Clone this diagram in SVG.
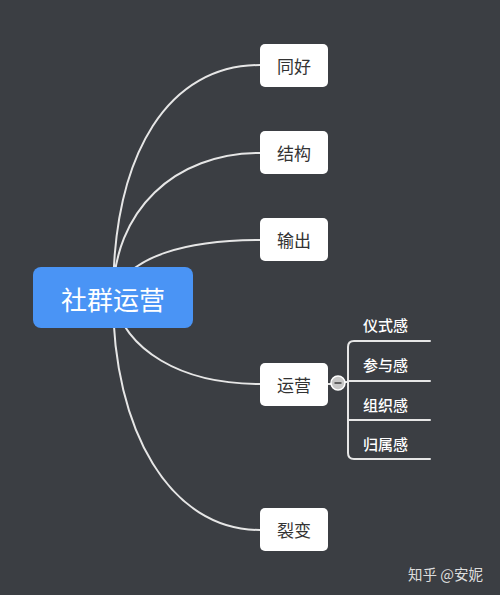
<svg xmlns="http://www.w3.org/2000/svg" width="500" height="595" viewBox="0 0 500 595">
<style>
.bg{fill:#3b3e43}
.ln{fill:none;stroke:#e6e6e6;stroke-width:2;stroke-linecap:round}
.child rect{fill:#ffffff}
.child text{font-family:"Noto Sans CJK SC","Noto Sans",sans-serif;font-size:17px;fill:#333333;text-anchor:middle;dominant-baseline:central}
.leaf{font-family:"Noto Sans CJK SC","Noto Sans",sans-serif;font-size:15px;font-weight:500;fill:#ffffff;dominant-baseline:central}
</style>
<rect class="bg" x="0" y="0" width="500" height="595"/>
<g id="connectors">
<path class="ln" d="M113,298 C113,150 170,65 260,65"/>
<path class="ln" d="M113,298 C113,210 175,153 260,153"/>
<path class="ln" d="M113,298 C125,255 190,240 260,240"/>
<path class="ln" d="M113,298 C125,350 180,384 260,384"/>
<path class="ln" d="M113,298 C113,430 170,530 260,530"/>
<path class="ln" d="M328,384 L340,384"/>
<path class="ln" d="M338,382 L348,382"/>
<path class="ln" d="M430,341 L354,341 Q348,341 348,347 L348,453 Q348,459 354,459 L430,459"/>
<path class="ln" d="M348,381 L430,381"/>
<path class="ln" d="M348,420 L430,420"/>
</g>
<g id="root">
<rect x="33" y="267" width="160" height="61" rx="8" fill="#4a94f5"/>
<text x="113" y="298" font-family="Noto Sans CJK SC,Noto Sans,sans-serif" font-size="26" fill="#ffffff" text-anchor="middle" dominant-baseline="central">社群运营</text>
</g>
<g id="n1" class="child"><rect x="260" y="44" width="68" height="43" rx="5"/><text x="294" y="65.5">同好</text></g>
<g id="n2" class="child"><rect x="260" y="131" width="68" height="43" rx="5"/><text x="294" y="152.5">结构</text></g>
<g id="n3" class="child"><rect x="260" y="218" width="68" height="43" rx="5"/><text x="294" y="239.5">输出</text></g>
<g id="n4" class="child"><rect x="260" y="363" width="68" height="43" rx="5"/><text x="294" y="384.5">运营</text></g>
<g id="n5" class="child"><rect x="260" y="508" width="68" height="43" rx="5"/><text x="294" y="529.5">裂变</text></g>
<g id="collapse">
<circle cx="338" cy="383" r="7" fill="#c8c8c8" stroke="#ffffff" stroke-width="1.5"/>
<line x1="334.5" y1="383" x2="341.5" y2="383" stroke="#555" stroke-width="1.8"/>
</g>
<g id="leaf1"><text class="leaf" x="363" y="324">仪式感</text></g>
<g id="leaf2"><text class="leaf" x="363" y="364">参与感</text></g>
<g id="leaf3"><text class="leaf" x="363" y="404">组织感</text></g>
<g id="leaf4"><text class="leaf" x="363" y="443">归属感</text></g>
<text x="408" y="573" font-family="Noto Sans CJK SC,Noto Sans,sans-serif" font-size="14.5" fill="#dddddd" dominant-baseline="central">知乎 @安妮</text>
</svg>
